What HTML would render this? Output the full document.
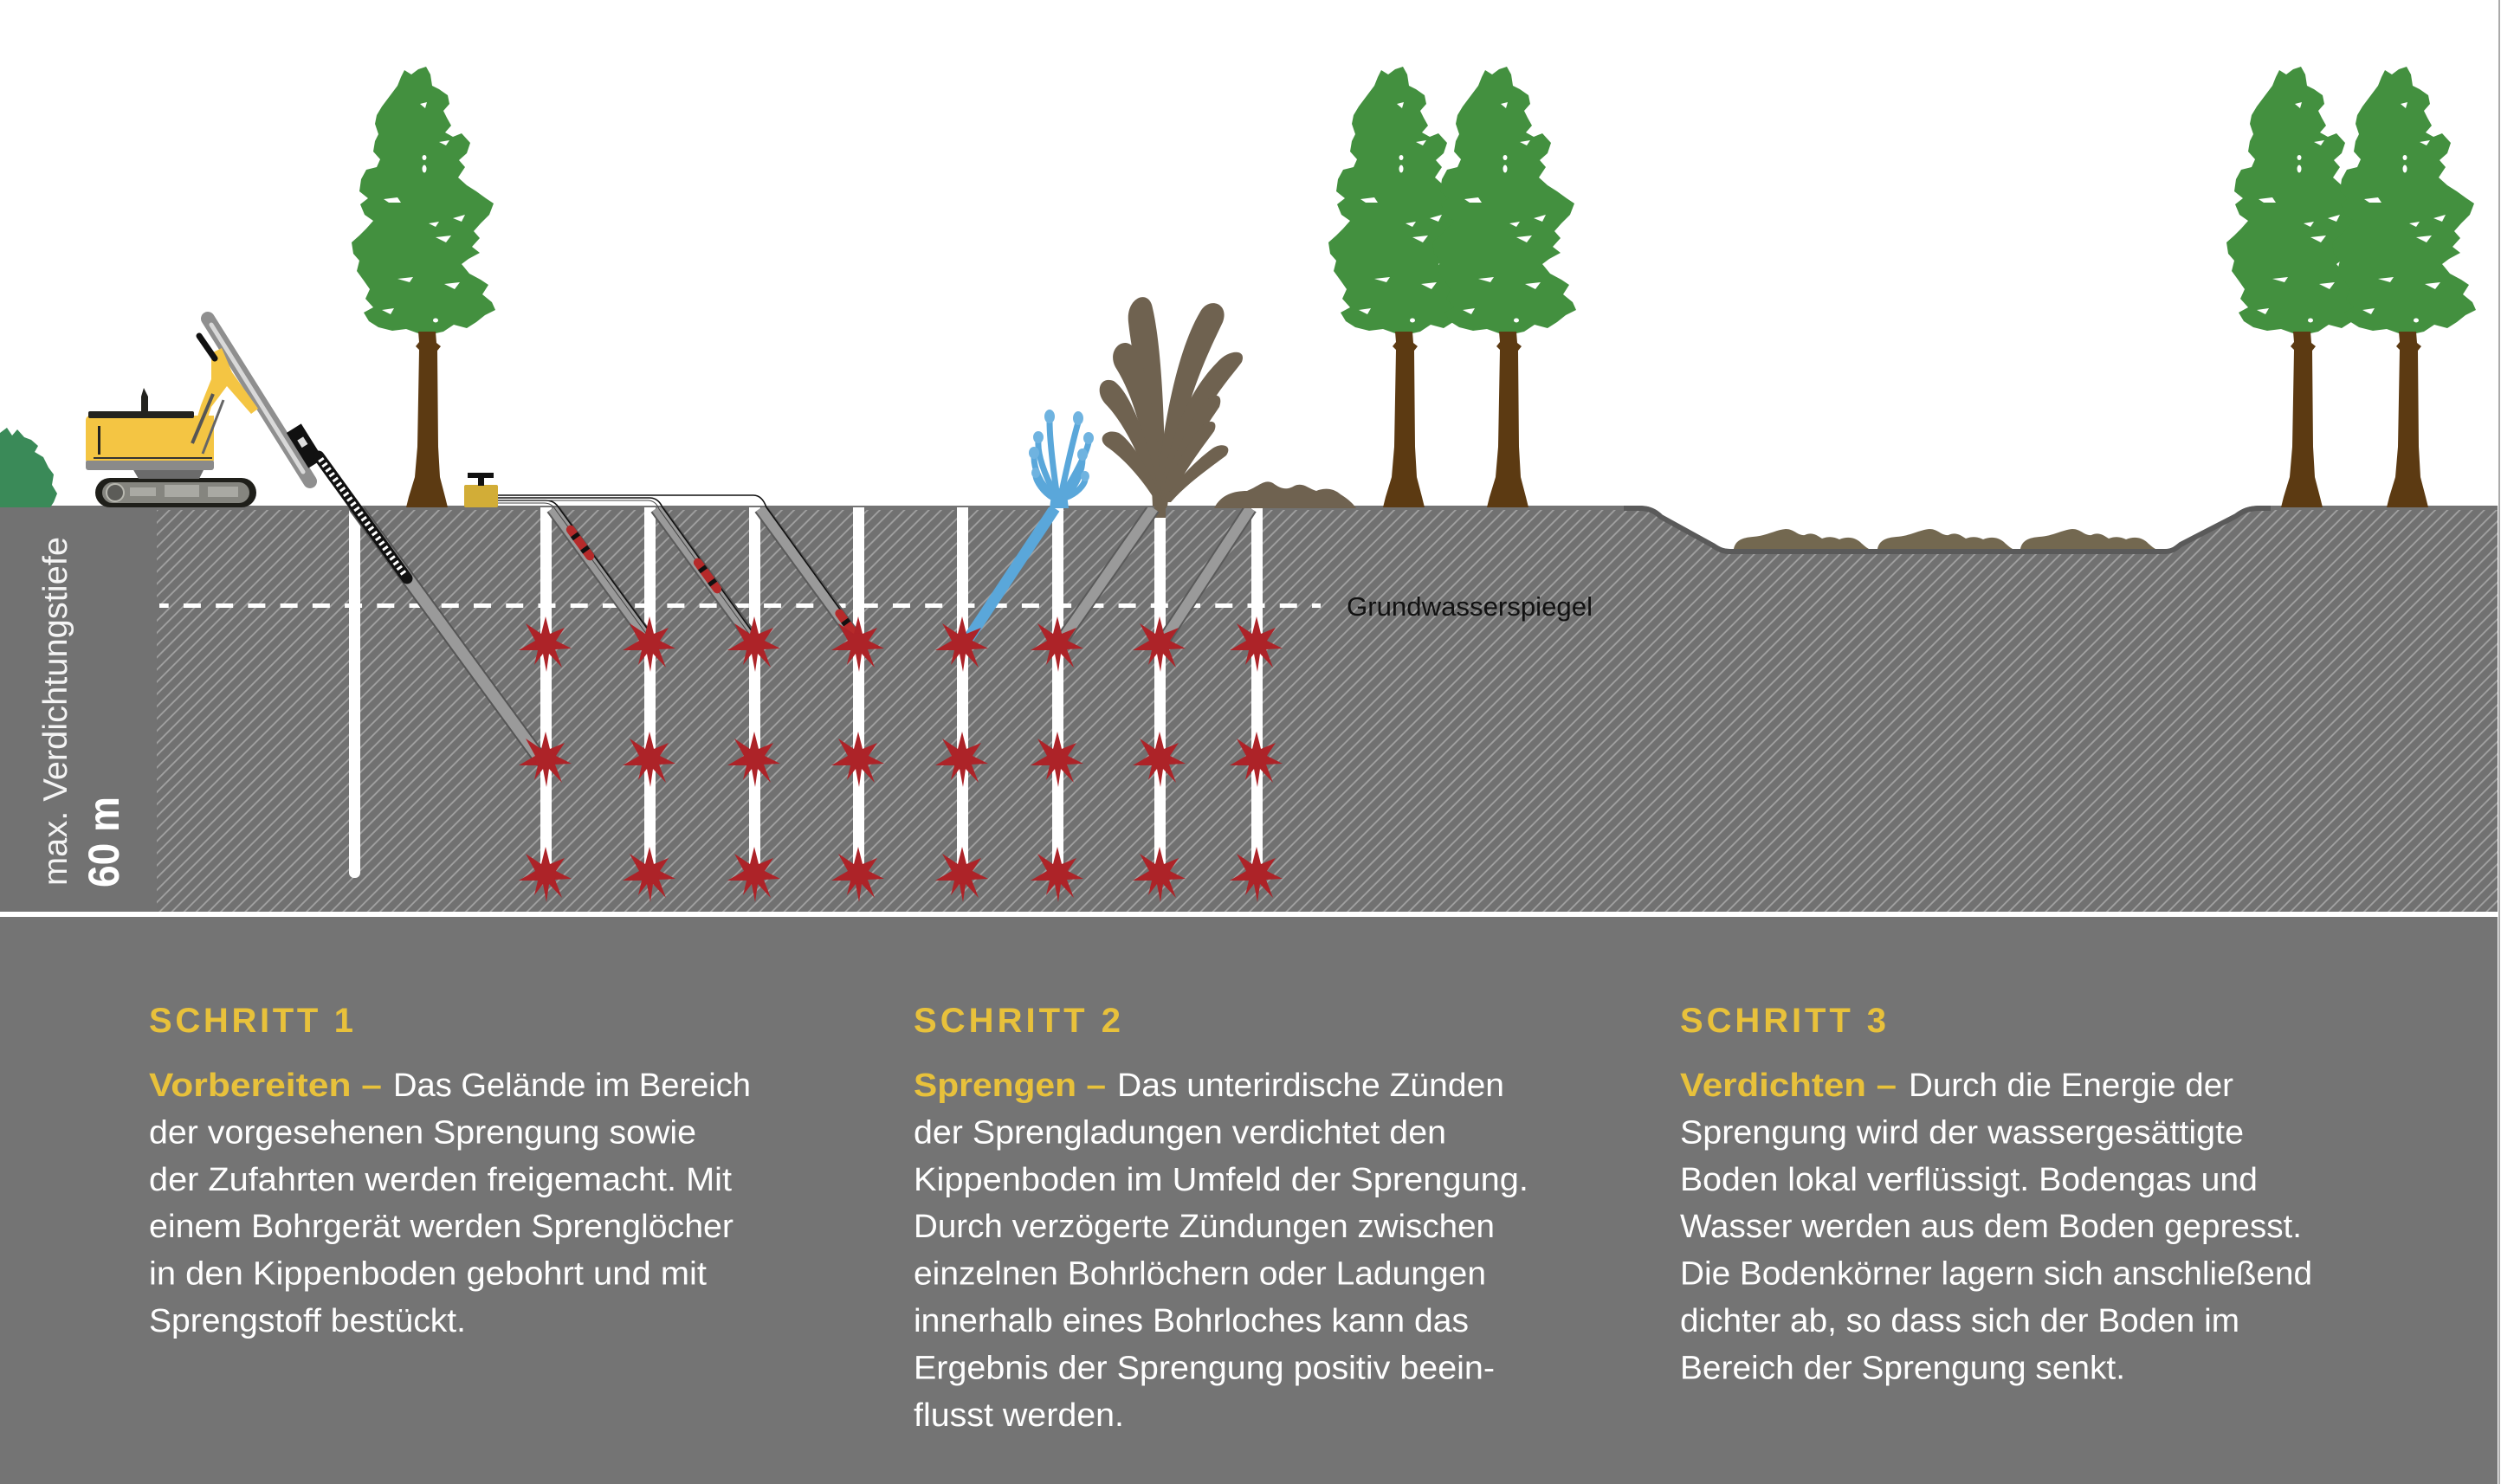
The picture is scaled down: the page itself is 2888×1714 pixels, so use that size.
<!DOCTYPE html>
<html><head><meta charset="utf-8">
<style>
html,body{margin:0;padding:0;background:#fff;}
svg{display:block;}
text{font-family:"Liberation Sans", Arial, sans-serif;}
</style></head><body>
<svg width="2888" height="1714" viewBox="0 0 2888 1714" xmlns="http://www.w3.org/2000/svg">
<defs>
<pattern id="hatch" patternUnits="userSpaceOnUse" width="10" height="10" patternTransform="rotate(45)">
<rect width="10" height="10" fill="#717171"/>
<line x1="5" y1="0" x2="5" y2="10" stroke="#a2a2a2" stroke-width="1.8"/>
</pattern>
<clipPath id="under"><rect x="0" y="586" width="2888" height="470"/></clipPath>
<g id="star">
<path d="M0,-31 L5,-11 L22,-18 L12,-3 L30,6 L11,7 L19,28 L4,12 L1,33 L-3,12 L-13,25 L-9,8 L-31,8 L-12,-3 L-23,-23 L-5,-11 Z" fill="#ad2328"/>
<circle cx="0" cy="0" r="12" fill="#ad2328"/>
</g>
<g id="tree">
<path d="M -1,-509 L 4,-500 L 6,-487 L 14,-483 L 24,-476 L 26,-466 L 19,-458 L 23,-450 L 28,-441 L 21,-433 L 30,-428 L 40,-432 L 50,-421 L 46,-409 L 37,-401 L 44,-393 L 36,-381 L 46,-372 L 57,-365 L 68,-357 L 77,-351 L 72,-338 L 62,-328 L 54,-319 L 61,-311 L 52,-301 L 61,-294 L 48,-287 L 40,-281 L 49,-270 L 62,-263 L 71,-257 L 64,-246 L 75,-237 L 79,-228 L 67,-222 L 57,-214 L 46,-207 L 31,-211 L 19,-203 L 10,-201 L -10,-201 L -24,-206 L -40,-204 L -56,-208 L -67,-215 L -73,-225 L -62,-231 L -71,-241 L -66,-252 L -73,-262 L -81,-273 L -78,-285 L -85,-293 L -87,-306 L -78,-314 L -70,-322 L -62,-331 L -72,-338 L -77,-350 L -68,-357 L -78,-365 L -76,-379 L -70,-390 L -58,-393 L -54,-402 L -62,-411 L -60,-423 L -56,-431 L -60,-443 L -58,-453 L -52,-463 L -46,-471 L -40,-479 L -34,-487 L -30,-497 L -26,-505 L -18,-500 L -10,-506 Z" fill="#43903f"/>
<g fill="#fff">
<path d="M-8,-466 L0,-468 L-2,-461 Z"/>
<ellipse cx="-3" cy="-404" rx="2.5" ry="3"/>
<ellipse cx="-3" cy="-391" rx="2.5" ry="4.5"/>
<path d="M-50,-356 L-34,-358 L-30,-352 L-44,-352 Z"/>
<path d="M2,-328 L14,-330 L10,-324 Z"/>
<path d="M10,-312 L28,-314 L22,-306 Z"/>
<path d="M-34,-264 L-16,-266 L-20,-260 Z"/>
<path d="M30,-334 L44,-338 L40,-330 Z"/>
<path d="M20,-258 L38,-260 L32,-252 Z"/>
<path d="M-52,-228 L-38,-230 L-42,-223 Z"/>
<path d="M14,-422 L26,-424 L22,-418 Z"/>
<ellipse cx="10" cy="-216" rx="3" ry="2.5"/>
</g>
<path d="M -10,-203 L 10,-203 L 11,-190 L 16,-186 L 12,-181 L 13,-70 L 15,-35 L 21,-12 L 24,0 L -24,0 L -21,-12 L -14,-35 L -11,-70 L -9,-182 L -13,-186 L -9,-191 Z" fill="#5c3a12"/>
</g>
<path id="mound" d="M0,0 C2,-10 10,-13 22,-14 C38,-15 48,-22 60,-23 C70,-23 74,-15 82,-16 C90,-20 96,-16 102,-12 C110,-15 116,-14 122,-11 C132,-15 140,-13 146,-8 C150,-4 154,-1 156,0 Z" fill="#736850"/>
</defs>

<rect x="0" y="0" width="2888" height="1714" fill="#fff"/>

<!-- soil -->
<path d="M0,584 L1893,584 C1905,584 1912,588 1918,594 L1978,627 C1985,632 1990,634 1998,634 L2500,634 C2508,634 2512,631 2518,626 L2582,593 C2590,587 2597,584 2610,584 L2884,584 L2884,1053 L0,1053 Z" fill="url(#hatch)"/>
<rect x="0" y="584" width="1893" height="5" fill="#737373"/>
<rect x="2610" y="584" width="274" height="5" fill="#737373"/>
<rect x="0" y="584" width="181" height="469" fill="#727272"/>
<path d="M1875,587 L1893,587 C1905,587 1912,591 1918,597 L1978,630 C1985,635 1990,637 1998,637 L2500,637 C2508,637 2512,634 2518,629 L2582,596 C2590,590 2597,587 2610,587 L2622,587" fill="none" stroke="#5a5a5a" stroke-width="6"/>

<!-- depression mounds -->
<use href="#mound" x="2002" y="634"/>
<use href="#mound" x="2168" y="634"/>
<use href="#mound" x="2333" y="634"/>

<!-- groundwater dashed line -->
<line x1="174.7" y1="699.5" x2="1525" y2="699.5" stroke="#fff" stroke-width="5" stroke-dasharray="20 17.23"/>
<rect x="0" y="690" width="184" height="20" fill="#727272"/>

<g clip-path="url(#under)">
<rect x="403" y="580" width="13" height="434" rx="6" fill="#fff"/>
<g fill="#fff">
<rect x="624" y="580" width="13" height="432" rx="6"/>
<rect x="744" y="580" width="13" height="432" rx="6"/>
<rect x="865" y="580" width="13" height="432" rx="6"/>
<rect x="985" y="580" width="13" height="432" rx="6"/>
<rect x="1105" y="580" width="13" height="432" rx="6"/>
<rect x="1215" y="580" width="13" height="432" rx="6"/>
<rect x="1333" y="580" width="13" height="432" rx="6"/>
<rect x="1445" y="580" width="13" height="432" rx="6"/>
</g>
<rect x="1333" y="584" width="13" height="14" fill="#6f6250"/>

<line x1="411" y1="586" x2="624" y2="877" stroke="#555" stroke-width="17" stroke-linecap="round"/>
<line x1="411" y1="586" x2="624" y2="877" stroke="#9a9a9a" stroke-width="13" stroke-linecap="round"/>

<g stroke-linecap="butt">
<line x1="638" y1="587" x2="750" y2="740" stroke="#5a5a5a" stroke-width="16"/>
<line x1="638" y1="587" x2="750" y2="740" stroke="#9a9a9a" stroke-width="12"/>
<line x1="758" y1="587" x2="870" y2="740" stroke="#5a5a5a" stroke-width="16"/>
<line x1="758" y1="587" x2="870" y2="740" stroke="#9a9a9a" stroke-width="12"/>
<line x1="878" y1="587" x2="990" y2="740" stroke="#5a5a5a" stroke-width="16"/>
<line x1="878" y1="587" x2="990" y2="740" stroke="#9a9a9a" stroke-width="12"/>
<line x1="1218" y1="587" x2="1118" y2="738" stroke="#5aa7da" stroke-width="13"/>
<line x1="1332" y1="587" x2="1227" y2="738" stroke="#5a5a5a" stroke-width="16"/>
<line x1="1332" y1="587" x2="1227" y2="738" stroke="#9a9a9a" stroke-width="12"/>
<line x1="1444" y1="587" x2="1345" y2="738" stroke="#5a5a5a" stroke-width="16"/>
<line x1="1444" y1="587" x2="1345" y2="738" stroke="#9a9a9a" stroke-width="12"/>
</g>
</g>

<!-- wires -->
<g fill="none" stroke="#111" stroke-width="1.6">
<path d="M575,578 L630,578 Q640,578 645,586 L754,735"/>
<path d="M575,575 L750,575 Q760,575 765,586 L874,737"/>
<path d="M575,572 L870,572 Q880,572 885,586 L994,737"/>
</g>
<g fill="none" stroke="#444" stroke-width="1">
<path d="M575,581 L628,581 Q637,581 641,588 L750,737"/>
<path d="M575,578 L748,578 Q757,578 761,588 L870,739"/>
</g>

<!-- charges -->
<g transform="translate(670,627) rotate(-36)"><rect x="-5" y="-24" width="10" height="48" rx="5" fill="#b52a2a"/><rect x="-5" y="-12" width="10" height="5" fill="#111"/><rect x="-5" y="7" width="10" height="5" fill="#111"/></g>
<g transform="translate(817,665) rotate(-36)"><rect x="-5" y="-24" width="10" height="48" rx="5" fill="#b52a2a"/><rect x="-5" y="-12" width="10" height="5" fill="#111"/><rect x="-5" y="7" width="10" height="5" fill="#111"/></g>
<g transform="translate(977,719) rotate(-36)"><rect x="-5" y="-18" width="10" height="36" rx="5" fill="#b52a2a"/><rect x="-5" y="-3" width="10" height="5" fill="#111"/></g>

<!-- stars -->
<g>
<use href="#star" x="630" y="743"/><use href="#star" x="750" y="743"/><use href="#star" x="871" y="743"/><use href="#star" x="991" y="743"/><use href="#star" x="1111" y="743"/><use href="#star" x="1221" y="743"/><use href="#star" x="1339" y="743"/><use href="#star" x="1451" y="743"/>
<use href="#star" x="630" y="876"/><use href="#star" x="750" y="876"/><use href="#star" x="871" y="876"/><use href="#star" x="991" y="876"/><use href="#star" x="1111" y="876"/><use href="#star" x="1221" y="876"/><use href="#star" x="1339" y="876"/><use href="#star" x="1451" y="876"/>
<use href="#star" x="630" y="1009"/><use href="#star" x="750" y="1009"/><use href="#star" x="871" y="1009"/><use href="#star" x="991" y="1009"/><use href="#star" x="1111" y="1009"/><use href="#star" x="1221" y="1009"/><use href="#star" x="1339" y="1009"/><use href="#star" x="1451" y="1009"/>
</g>

<!-- bush -->
<path d="M0,500 L8,494 L14,503 L20,496 L28,505 L36,508 L44,515 L40,522 L50,528 L56,540 L62,548 L60,560 L66,570 L62,580 L58,586 L0,586 Z" fill="#3a8a58"/>

<!-- excavator -->
<rect x="110" y="552" width="186" height="34" rx="17" fill="#1f1f1a"/>
<rect x="118" y="557" width="170" height="24" rx="12" fill="#85857f"/>
<circle cx="133" cy="569" r="10" fill="#5c5c58" stroke="#b8b8b0" stroke-width="2"/>
<path d="M150,563 h30 v10 h-30z M190,560 h40 v14 h-40z M240,562 h35 v12 h-35z" fill="#a9a9a3"/>
<path d="M153,541 L236,541 L230,553 L160,553 Z" fill="#6b6b6b"/>
<rect x="99" y="531" width="148" height="12" rx="3" fill="#8a8a8a"/>
<path d="M99,486 Q99,480 105,480 L247,480 L247,532 L99,532 Z" fill="#f4c543"/>
<rect x="102" y="475" width="122" height="8" rx="2" fill="#23231f"/>
<rect x="113" y="492" width="3" height="33" fill="#222"/>
<rect x="108" y="528" width="137" height="2" fill="#333"/>
<path d="M163,477 L163,458 L166,448 L171,458 L171,477 Z" fill="#23231f"/>
<line x1="240" y1="368" x2="358" y2="556" stroke="#8f8f8f" stroke-width="16" stroke-linecap="round"/>
<line x1="244" y1="375" x2="350" y2="545" stroke="#d9d9d9" stroke-width="5" stroke-linecap="round"/>
<path d="M218,524 L226,524 L244,470 L262,446 L290,478 L298,472 L268,430 L256,402 L244,408 L244,438 L232,468 L218,515 Z" fill="#f4c543"/>
<line x1="222" y1="512" x2="246" y2="455" stroke="#555" stroke-width="4"/>
<line x1="234" y1="524" x2="258" y2="462" stroke="#666" stroke-width="3"/>
<line x1="230" y1="388" x2="248" y2="414" stroke="#111" stroke-width="7" stroke-linecap="round"/>
<rect x="-10" y="-24" width="20" height="48" fill="#111" transform="translate(352,515) rotate(-32)"/>
<rect x="-4" y="-10" width="8" height="10" fill="#ddd" transform="translate(352,515) rotate(-32)"/>
<line x1="368" y1="527" x2="470" y2="668" stroke="#111" stroke-width="13" stroke-linecap="round"/>
<line x1="370" y1="530" x2="468" y2="665" stroke="#fff" stroke-width="7" stroke-dasharray="3 4"/>

<!-- detonator -->
<rect x="536" y="560" width="39" height="26" rx="2" fill="#d2ad37"/>
<rect x="552" y="551" width="7" height="10" fill="#111"/>
<rect x="540" y="546" width="30" height="6" fill="#111"/>

<!-- trees -->
<use href="#tree" x="493" y="586"/>
<use href="#tree" x="1621" y="586"/>
<use href="#tree" x="1741" y="586"/>
<use href="#tree" x="2658" y="586"/>
<use href="#tree" x="2780" y="586"/>

<!-- water fountain -->
<path d="M1212,587 L1215,564 L1231,564 L1234,587 Z" fill="#5aa7da"/>
<g fill="none" stroke="#5aa7da" stroke-width="7" stroke-linecap="round">
<path d="M1220,568 C1216,540 1212,505 1212,486"/>
<path d="M1226,568 C1232,540 1240,505 1245,488"/>
<path d="M1218,570 C1206,548 1198,525 1199,510"/>
<path d="M1228,570 C1242,548 1254,525 1257,511"/>
<path d="M1217,572 C1200,560 1194,540 1194,528"/>
<path d="M1229,572 C1245,562 1250,540 1250,530"/>
<path d="M1216,575 C1204,568 1197,556 1196,550"/>
<path d="M1230,575 C1244,570 1252,560 1253,554"/>
</g>
<g fill="#6fb3e0">
<ellipse cx="1212" cy="481" rx="6" ry="8"/><ellipse cx="1245" cy="483" rx="6" ry="8"/>
<ellipse cx="1199" cy="505" rx="6" ry="7"/><ellipse cx="1257" cy="506" rx="6" ry="7"/>
<ellipse cx="1194" cy="523" rx="6" ry="7"/><ellipse cx="1250" cy="525" rx="6" ry="7"/>
<ellipse cx="1196" cy="546" rx="5" ry="6"/><ellipse cx="1253" cy="550" rx="5" ry="6"/>
</g>

<!-- soil fountain -->
<g fill="#6f6250">
<rect x="1333" y="556" width="14" height="31"/>
<path d="M1331,585 C1328,500 1308,420 1303,372 C1300,345 1324,334 1330,352 C1340,390 1346,480 1345,585 Z"/>
<path d="M1334,585 C1343,480 1362,400 1386,360 C1396,342 1420,350 1412,372 C1398,402 1362,470 1348,585 Z"/>
<path d="M1334,580 C1322,500 1306,452 1288,424 C1278,405 1296,388 1308,400 C1324,420 1336,480 1342,580 Z"/>
<path d="M1338,580 C1350,500 1376,448 1406,418 C1418,404 1440,402 1434,418 C1422,436 1382,472 1348,580 Z"/>
<path d="M1332,575 C1316,522 1294,484 1276,466 C1264,452 1270,434 1286,440 C1304,452 1324,500 1340,575 Z"/>
<path d="M1340,575 C1353,530 1370,493 1390,466 C1398,454 1414,452 1408,470 C1396,488 1368,527 1350,575 Z"/>
<path d="M1341,578 C1354,545 1370,513 1386,494 C1394,484 1408,484 1402,498 C1392,512 1368,542 1351,578 Z"/>
<path d="M1334,578 C1318,552 1296,528 1278,516 C1266,507 1276,494 1292,500 C1308,510 1328,545 1342,578 Z"/>
<path d="M1342,580 C1358,555 1383,530 1400,518 C1410,511 1424,514 1416,526 C1402,537 1372,557 1352,580 Z"/>
<path d="M1402,587 C1410,571 1425,567 1440,567 C1455,561 1460,553 1470,558 C1478,564 1485,567 1495,561 C1505,557 1510,564 1520,567 C1530,563 1540,564 1548,571 C1556,576 1562,581 1566,587 Z"/>
</g>

<!-- separator and bottom panel -->
<rect x="0" y="1053" width="2884" height="6" fill="#fff"/>
<rect x="0" y="1059" width="2884" height="655" fill="#747474"/>
<rect x="2885" y="0" width="2" height="1714" fill="#aaaaaa"/>

<!-- labels -->
<text transform="translate(77,1023) rotate(-90)" font-size="39" fill="#f4f4f4" textLength="403" lengthAdjust="spacingAndGlyphs">max. Verdichtungstiefe</text>
<text transform="translate(137,1025) rotate(-90)" font-size="50" font-weight="bold" fill="#fff" textLength="105" lengthAdjust="spacingAndGlyphs">60 m</text>
<text x="1555" y="711" font-size="31" fill="#111" textLength="284" lengthAdjust="spacingAndGlyphs">Grundwasserspiegel</text>

<!-- headings -->
<g font-size="40" font-weight="bold" fill="#e8c13b">
<text x="172" y="1192" textLength="236" lengthAdjust="spacing">SCHRITT 1</text>
<text x="1055" y="1192" textLength="239" lengthAdjust="spacing">SCHRITT 2</text>
<text x="1940" y="1192" textLength="238" lengthAdjust="spacing">SCHRITT 3</text>
</g>

<!-- body -->
<g font-size="38" fill="#fff">
<text x="172" y="1266" font-weight="bold" fill="#e8c13b" textLength="269" lengthAdjust="spacingAndGlyphs">Vorbereiten –</text>
<text x="454" y="1266" textLength="413" lengthAdjust="spacingAndGlyphs">Das Gelände im Bereich</text>
<text x="172" y="1320.4" textLength="632" lengthAdjust="spacingAndGlyphs">der vorgesehenen Sprengung sowie</text>
<text x="172" y="1374.8" textLength="673" lengthAdjust="spacingAndGlyphs">der Zufahrten werden freigemacht. Mit</text>
<text x="172" y="1429.2" textLength="675" lengthAdjust="spacingAndGlyphs">einem Bohrgerät werden Sprenglöcher</text>
<text x="172" y="1483.6" textLength="644" lengthAdjust="spacingAndGlyphs">in den Kippenboden gebohrt und mit</text>
<text x="172" y="1538" textLength="366" lengthAdjust="spacingAndGlyphs">Sprengstoff bestückt.</text>

<text x="1055" y="1266" font-weight="bold" fill="#e8c13b" textLength="222" lengthAdjust="spacingAndGlyphs">Sprengen –</text>
<text x="1290" y="1266" textLength="447" lengthAdjust="spacingAndGlyphs">Das unterirdische Zünden</text>
<text x="1055" y="1320.4" textLength="615" lengthAdjust="spacingAndGlyphs">der Sprengladungen verdichtet den</text>
<text x="1055" y="1374.8" textLength="710" lengthAdjust="spacingAndGlyphs">Kippenboden im Umfeld der Sprengung.</text>
<text x="1055" y="1429.2" textLength="671" lengthAdjust="spacingAndGlyphs">Durch verzögerte Zündungen zwischen</text>
<text x="1055" y="1483.6" textLength="661" lengthAdjust="spacingAndGlyphs">einzelnen Bohrlöchern oder Ladungen</text>
<text x="1055" y="1538" textLength="641" lengthAdjust="spacingAndGlyphs">innerhalb eines Bohrloches kann das</text>
<text x="1055" y="1592.4" textLength="671" lengthAdjust="spacingAndGlyphs">Ergebnis der Sprengung positiv beein-</text>
<text x="1055" y="1646.8" textLength="243" lengthAdjust="spacingAndGlyphs">flusst werden.</text>

<text x="1940" y="1266" font-weight="bold" fill="#e8c13b" textLength="250" lengthAdjust="spacingAndGlyphs">Verdichten –</text>
<text x="2204" y="1266" textLength="375" lengthAdjust="spacingAndGlyphs">Durch die Energie der</text>
<text x="1940" y="1320.4" textLength="651" lengthAdjust="spacingAndGlyphs">Sprengung wird der wassergesättigte</text>
<text x="1940" y="1374.8" textLength="667" lengthAdjust="spacingAndGlyphs">Boden lokal verflüssigt. Bodengas und</text>
<text x="1940" y="1429.2" textLength="718" lengthAdjust="spacingAndGlyphs">Wasser werden aus dem Boden gepresst.</text>
<text x="1940" y="1483.6" textLength="730" lengthAdjust="spacingAndGlyphs">Die Bodenkörner lagern sich anschließend</text>
<text x="1940" y="1538" textLength="646" lengthAdjust="spacingAndGlyphs">dichter ab, so dass sich der Boden im</text>
<text x="1940" y="1592.4" textLength="514" lengthAdjust="spacingAndGlyphs">Bereich der Sprengung senkt.</text>
</g>
</svg>
</body></html>
